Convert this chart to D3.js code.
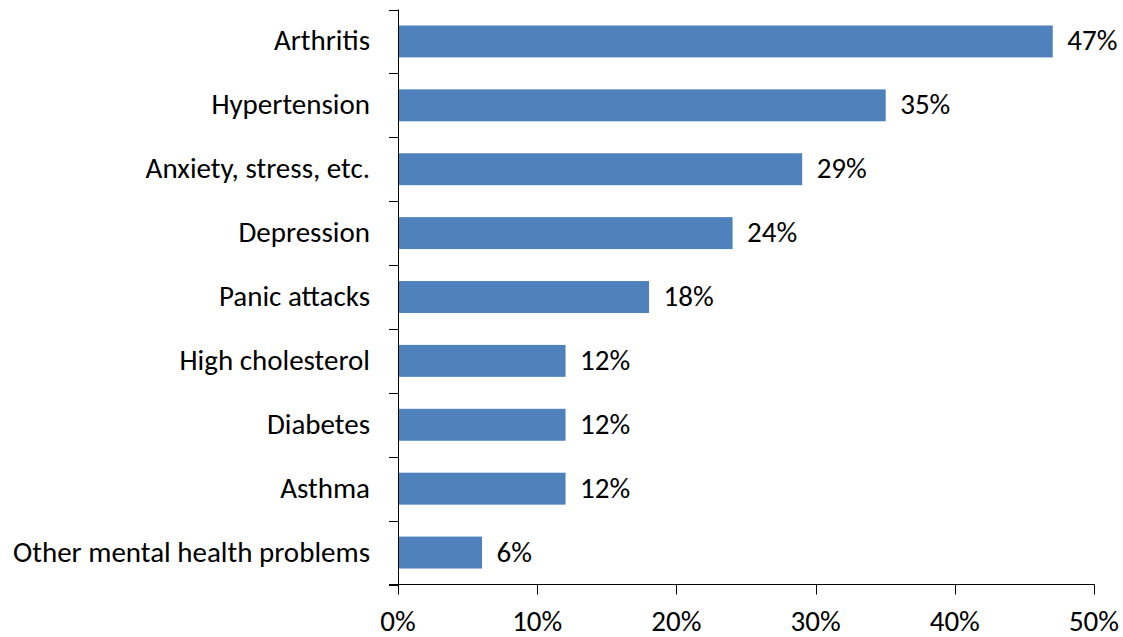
<!DOCTYPE html>
<html><head><meta charset="utf-8">
<script src="https://cdn.jsdelivr.net/npm/d3@7"></script>
<style>body{margin:0;background:#fff}svg{display:block}text{font-family:Carlito,Calibri,"Open Sans",sans-serif;fill:#000}</style>
</head><body>
<svg id="c" width="1123" height="637"></svg>
<script>
const categories = ["Arthritis","Hypertension","Anxiety, stress, etc.","Depression","Panic attacks","High cholesterol","Diabetes","Asthma","Other mental health problems"];
const values = [47,35,29,24,18,12,12,12,6];
const tickValues = [0,10,20,30,40,50];

(function(){
const svg = d3.select("#c");
const L = 398, R = 1094, T = 9.5, B = 584.5;
const FS = 29;
const x = d3.scaleLinear().domain([0,50]).range([L,R]);
const y = d3.scaleBand().domain(categories).range([T,B]).paddingInner(0.5).paddingOuter(0.25);
const yb = d3.scaleBand().domain(categories).range([T,B]);

svg.selectAll("rect.bar").data(categories).enter().append("rect")
  .attr("x", x(0)+0.5).attr("y", d=>y(d)).attr("width", (d,i)=>x(values[i])-x(0)).attr("height", y.bandwidth())
  .attr("fill","#4F81BD");

svg.append("line").attr("x1",L+0.5).attr("x2",L+0.5).attr("y1",T).attr("y2",B).attr("stroke","#000");
const yt = categories.map(c=>yb(c)).concat([B]);
svg.selectAll("line.yt").data(yt).enter().append("line")
  .attr("x1",L-9).attr("x2",L).attr("y1",d=>Math.round(d)+0.5).attr("y2",d=>Math.round(d)+0.5).attr("stroke","#000");

svg.append("line").attr("x1",L-9).attr("x2",R+0.5).attr("y1",B).attr("y2",B).attr("stroke","#000");
svg.selectAll("line.xt").data(tickValues).enter().append("line")
  .attr("x1",d=>Math.round(x(d))+0.5).attr("x2",d=>Math.round(x(d))+0.5).attr("y1",B).attr("y2",B+10).attr("stroke","#000");
svg.selectAll("text.xl").data(tickValues).enter().append("text")
  .attr("x",d=>x(d)).attr("y",631).attr("text-anchor","middle").attr("font-size",FS).text(d=>d+"%");

svg.selectAll("text.cl").data(categories).enter().append("text")
  .attr("x",370).attr("y",d=>yb(d)+yb.bandwidth()/2).attr("dy","0.31em").attr("text-anchor","end").attr("font-size",FS).text(d=>d);

svg.selectAll("text.vl").data(categories).enter().append("text")
  .attr("x",(d,i)=>x(values[i])+15).attr("y",d=>yb(d)+yb.bandwidth()/2).attr("dy","0.31em").attr("font-size",FS).text((d,i)=>values[i]+"%");
})();
</script>
</body></html>
